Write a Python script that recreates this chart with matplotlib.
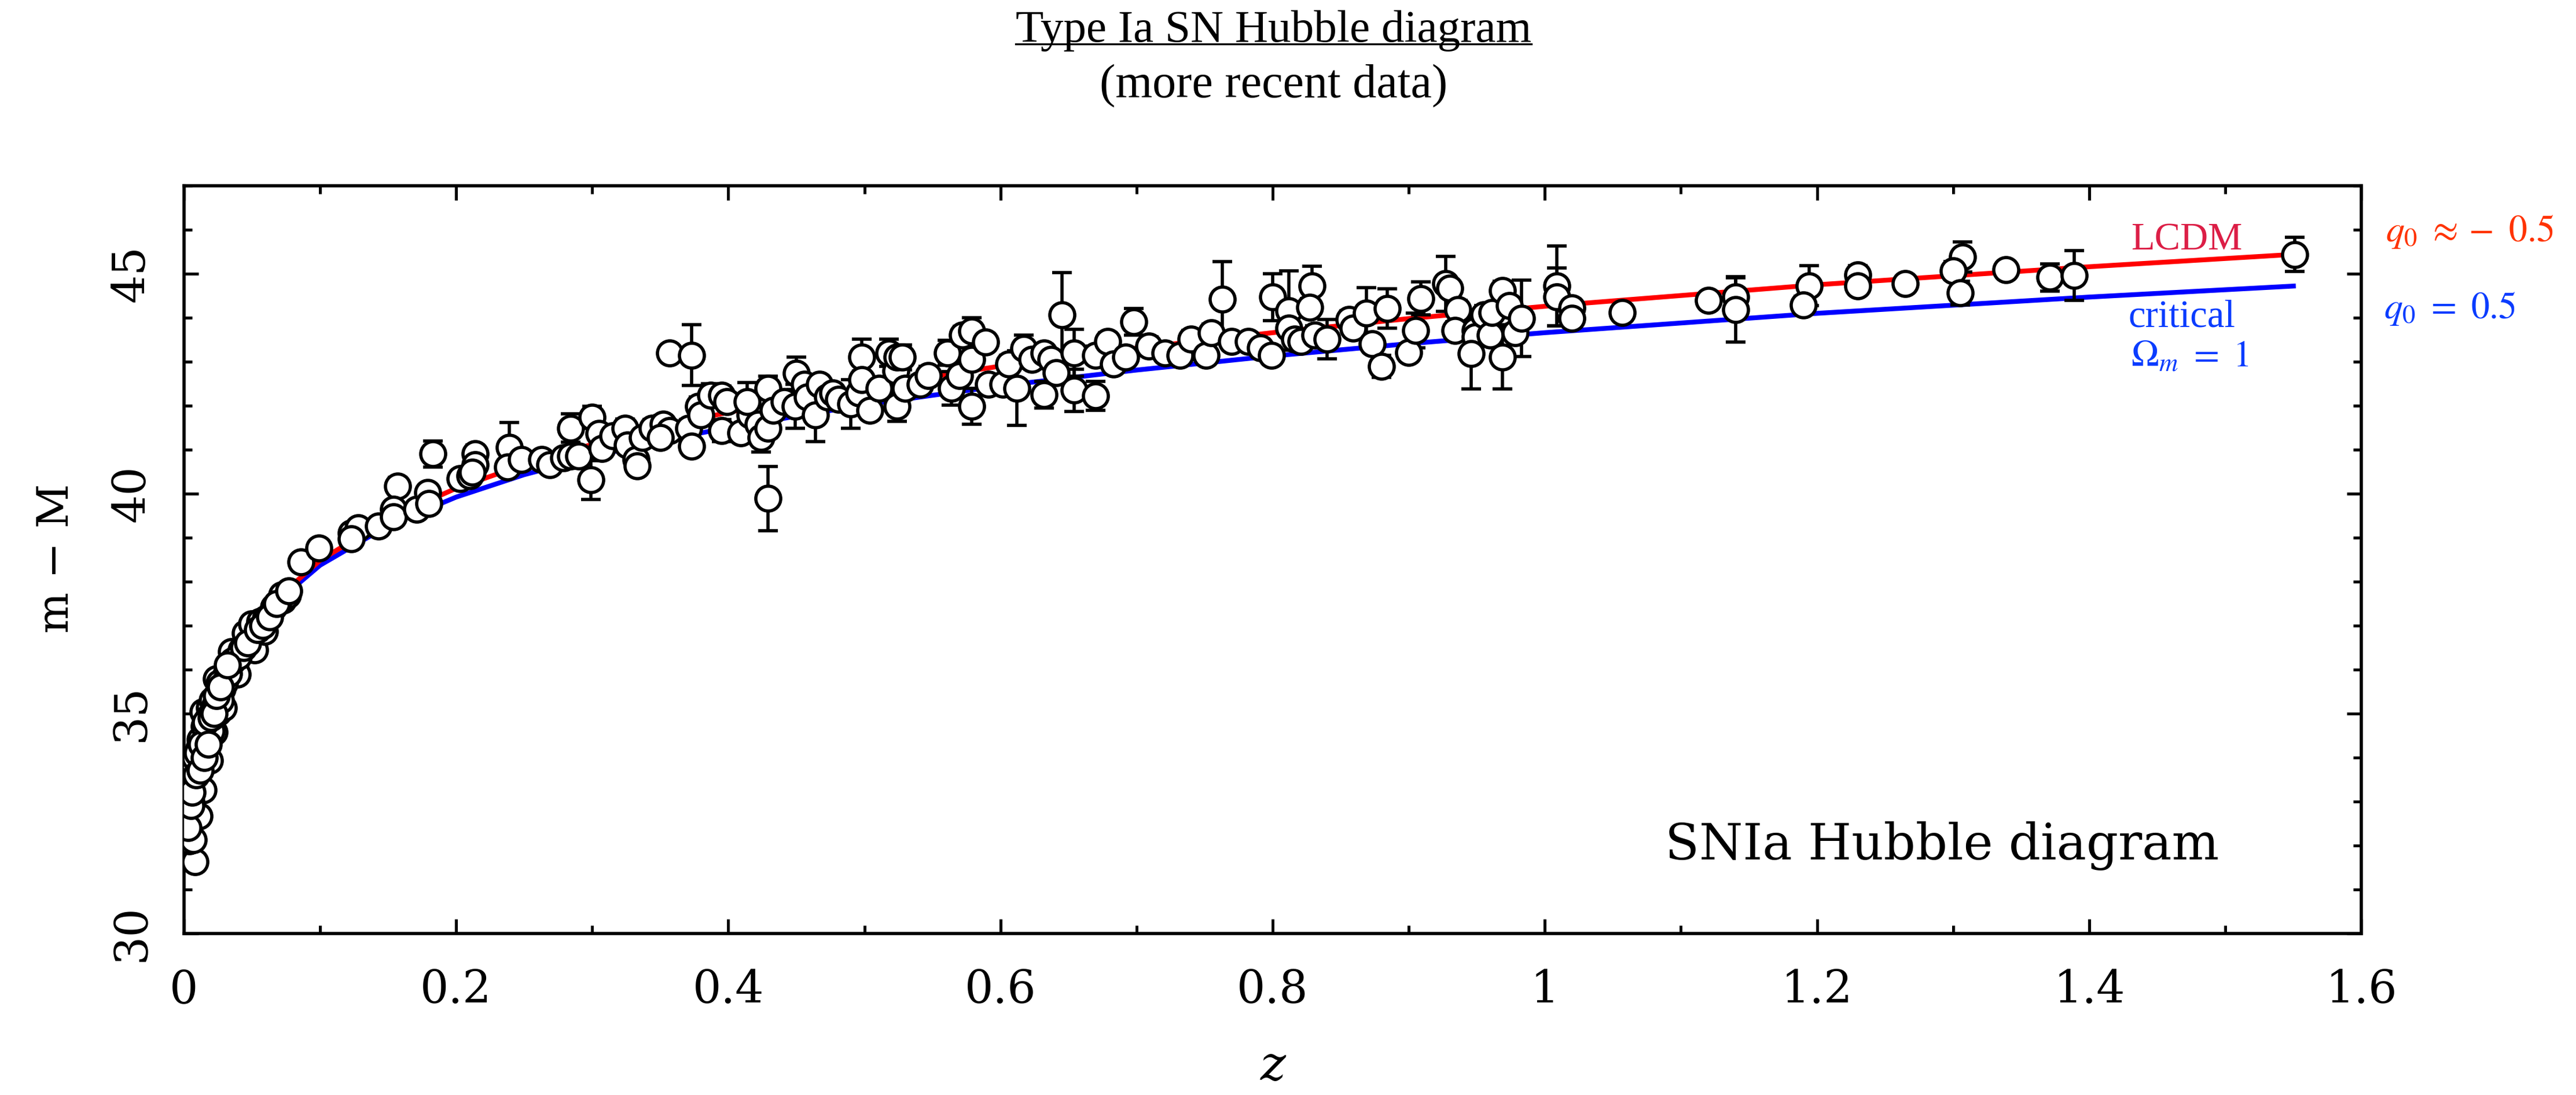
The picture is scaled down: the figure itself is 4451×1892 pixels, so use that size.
# Type Ia SN Hubble diagram (distance modulus vs redshift)

import matplotlib
matplotlib.use("Agg")
import matplotlib.pyplot as plt
from matplotlib.lines import Line2D
from matplotlib.ticker import MultipleLocator

# supernovae: redshift z, distance modulus mu, error
z_near = [0.008, 0.004, 0.007, 0.003, 0.007, 0.011, 0.004, 0.009, 0.014, 0.013,
          0.016, 0.011, 0.019, 0.017, 0.022, 0.014, 0.019, 0.025, 0.029, 0.025,
          0.028, 0.024, 0.031, 0.035, 0.038, 0.039, 0.035, 0.042, 0.048, 0.052,
          0.045, 0.050, 0.056, 0.059, 0.060, 0.066, 0.073, 0.076, 0.072,
          0.005, 0.006, 0.010, 0.012, 0.008, 0.015, 0.018, 0.020, 0.021, 0.023,
          0.026, 0.027, 0.030, 0.033, 0.036, 0.040, 0.044, 0.047, 0.054, 0.058,
          0.063, 0.068,
          0.003, 0.005, 0.006, 0.009, 0.010, 0.012, 0.013, 0.015, 0.016, 0.018,
          0.020, 0.022, 0.024, 0.027, 0.032]
mu_near = [31.63, 32.10, 32.12, 32.70, 32.70, 32.66, 33.38, 33.43, 33.26, 33.81,
           34.14, 34.20, 33.93, 34.47, 34.58, 35.03, 35.13, 35.02, 35.13, 35.45,
           35.56, 35.78, 35.89, 36.00, 36.17, 35.89, 36.41, 36.44, 36.55, 36.44,
           36.82, 37.04, 37.09, 36.87, 37.15, 37.42, 37.58, 37.70, 37.70,
           33.0, 33.7, 33.9, 34.4, 34.0, 34.7, 34.9, 34.6, 35.3, 35.2,
           35.7, 35.3, 35.7, 35.9, 36.2, 36.3, 36.5, 36.6, 36.9, 37.0,
           37.2, 37.5,
           32.4, 32.9, 33.2, 33.6, 34.1, 33.7, 34.3, 34.0, 34.8, 34.3,
           34.9, 35.0, 35.4, 35.6, 36.1]
dmu_near = 0.15

z_low = [0.077, 0.086, 0.099, 0.123, 0.128, 0.123, 0.143, 0.157, 0.154, 0.154,
         0.171, 0.179, 0.180, 0.183, 0.203, 0.210, 0.214, 0.214, 0.212, 0.239,
         0.238, 0.248, 0.263, 0.269, 0.279, 0.284, 0.284, 0.290, 0.299, 0.300,
         0.305, 0.307, 0.315, 0.324, 0.326, 0.332]
mu_low = [37.79, 38.45, 38.76, 39.10, 39.22, 38.97, 39.26, 40.17, 39.64, 39.47,
          39.64, 40.02, 39.77, 40.90, 40.34, 40.40, 40.90, 40.65, 40.48, 41.05,
          40.61, 40.78, 40.78, 40.65, 40.82, 41.49, 40.86, 40.86, 40.31, 41.74,
          41.37, 41.03, 41.32, 41.49, 41.11, 40.78]
dmu_low = [0.15, 0.15, 0.15, 0.15, 0.15, 0.15, 0.15, 0.20, 0.15, 0.15,
           0.15, 0.15, 0.15, 0.30, 0.15, 0.15, 0.20, 0.15, 0.15, 0.57,
           0.15, 0.15, 0.15, 0.15, 0.15, 0.32, 0.15, 0.15, 0.44, 0.25,
           0.20, 0.20, 0.20, 0.20, 0.20, 0.20]

z_mid = [0.333, 0.337, 0.344, 0.352, 0.357, 0.350, 0.371, 0.373, 0.357, 0.373,
         0.378, 0.380, 0.387, 0.395, 0.399, 0.395, 0.409, 0.416, 0.424, 0.414,
         0.429, 0.422, 0.424, 0.429, 0.429, 0.433, 0.441, 0.449, 0.450, 0.456,
         0.458, 0.464, 0.467, 0.473, 0.477, 0.481, 0.490, 0.496, 0.498, 0.498,
         0.504, 0.511, 0.518, 0.523, 0.524, 0.528, 0.524, 0.530, 0.541, 0.547,
         0.561, 0.564, 0.570, 0.572, 0.579, 0.579, 0.579, 0.589, 0.591, 0.602,
         0.606, 0.612, 0.617, 0.623]
mu_mid = [40.63, 41.28, 41.48, 41.58, 41.43, 41.28, 41.48, 41.08, 43.20, 43.15,
          41.99, 41.79, 42.24, 42.24, 42.09, 41.43, 41.38, 41.79, 42.04, 42.09,
          42.39, 41.58, 41.28, 41.48, 39.89, 41.89, 42.09, 41.99, 42.74, 42.49,
          42.19, 41.79, 42.49, 42.19, 42.29, 42.14, 42.04, 42.29, 43.10, 42.59,
          41.89, 42.39, 43.20, 42.79, 43.10, 43.10, 41.99, 42.39, 42.49, 42.69,
          43.20, 42.39, 42.69, 43.60, 43.70, 43.05, 41.99, 43.45, 42.49, 42.49,
          42.95, 42.40, 43.30, 43.05]
dmu_mid = [0.20, 0.20, 0.20, 0.20, 0.20, 0.20, 0.20, 0.20, 0.15, 0.69,
           0.20, 0.20, 0.26, 0.20, 0.20, 0.25, 0.20, 0.20, 0.20, 0.43,
           0.28, 0.20, 0.33, 0.20, 0.73, 0.20, 0.20, 0.50, 0.37, 0.20,
           0.20, 0.61, 0.20, 0.20, 0.20, 0.20, 0.55, 0.20, 0.41, 0.20,
           0.20, 0.20, 0.31, 0.20, 0.20, 0.28, 0.35, 0.20, 0.20, 0.20,
           0.28, 0.38, 0.20, 0.20, 0.30, 0.20, 0.41, 0.20, 0.20, 0.20,
           0.20, 0.85, 0.30, 0.20]

z_high = [0.632, 0.632, 0.637, 0.645, 0.641, 0.654, 0.654, 0.670, 0.670, 0.679,
          0.683, 0.692, 0.698, 0.709, 0.721, 0.732, 0.740, 0.751, 0.755, 0.763,
          0.770, 0.782, 0.791, 0.799, 0.800, 0.812, 0.829, 0.827, 0.812, 0.816,
          0.821, 0.831, 0.840, 0.856, 0.859, 0.869, 0.873, 0.880, 0.884]
mu_high = [43.20, 42.25, 43.05, 44.06, 42.75, 43.20, 42.35, 43.15, 42.22, 43.46,
           42.95, 43.10, 43.91, 43.36, 43.20, 43.15, 43.51, 43.15, 43.66, 44.42,
           43.46, 43.46, 43.31, 43.15, 44.47, 44.16, 44.72, 44.24, 43.76, 43.51,
           43.46, 43.61, 43.51, 43.96, 43.76, 44.11, 43.41, 42.90, 44.21]
dmu_high = [0.20, 0.30, 0.20, 0.97, 0.20, 0.53, 0.48, 0.20, 0.33, 0.20,
            0.20, 0.20, 0.30, 0.20, 0.20, 0.20, 0.20, 0.20, 0.20, 0.86,
            0.20, 0.20, 0.20, 0.20, 0.53, 0.90, 0.45, 0.20, 0.20, 0.20,
            0.20, 0.20, 0.45, 0.20, 0.20, 0.57, 0.20, 0.25, 0.45]

z_far = [0.900, 0.905, 0.909, 0.927, 0.930, 0.936, 0.934, 0.949, 0.949, 0.946,
         0.955, 0.960, 0.961, 0.969, 0.969, 0.974, 0.978, 0.983, 1.009, 1.009,
         1.020, 1.020, 1.057, 1.120, 1.140, 1.140, 1.194, 1.190, 1.230, 1.230,
         1.265, 1.307, 1.300, 1.305, 1.339, 1.371, 1.389, 1.551]
mu_far = [43.21, 43.71, 44.44, 44.77, 44.67, 44.19, 43.71, 43.71, 43.56, 43.18,
          44.07, 43.61, 44.12, 43.11, 44.62, 44.27, 43.66, 43.99, 44.72, 44.47,
          44.22, 43.99, 44.12, 44.39, 44.48, 44.18, 44.73, 44.29, 44.98, 44.73,
          44.77, 45.38, 45.07, 44.56, 45.09, 44.92, 44.96, 45.44]
dmu_far = [0.20, 0.40, 0.38, 0.62, 0.20, 0.20, 0.20, 0.20, 0.20, 0.80,
           0.20, 0.20, 0.20, 0.73, 0.21, 0.20, 0.20, 0.87, 0.91, 0.66,
           0.20, 0.20, 0.15, 0.15, 0.46, 0.73, 0.46, 0.20, 0.20, 0.20,
           0.15, 0.34, 0.20, 0.27, 0.15, 0.31, 0.57, 0.39]

# model curves (LCDM and critical Omega_m = 1)
z_model = [0.005, 0.01, 0.015, 0.02, 0.03, 0.05, 0.07, 0.1, 0.15, 0.2, 0.25,
           0.3, 0.35, 0.4, 0.5, 0.6, 0.7, 0.8, 0.9, 1.0, 1.2, 1.4, 1.55]
mu_lcdm = [31.82, 33.34, 34.23, 34.86, 35.75, 36.90, 37.66, 38.48, 39.43, 40.12, 40.66,
           41.12, 41.50, 41.85, 42.42, 42.90, 43.31, 43.66, 43.98, 44.26, 44.75, 45.16, 45.44]
mu_crit = [31.82, 33.32, 34.21, 34.84, 35.72, 36.84, 37.58, 38.37, 39.27, 39.92, 40.43,
           40.84, 41.20, 41.50, 42.02, 42.45, 42.81, 43.13, 43.41, 43.66, 44.10, 44.47, 44.72]

x_ticks = [0, 0.2, 0.4, 0.6, 0.8, 1.0, 1.2, 1.4, 1.6]
x_labels = ['0', '0.2', '0.4', '0.6', '0.8', '1', '1.2', '1.4', '1.6']
y_ticks = [30, 35, 40, 45]
y_labels = ['30', '35', '40', '45']

plt.rcParams['font.family'] = 'DejaVu Serif'
plt.rcParams['mathtext.fontset'] = 'stix'

fig = plt.figure(figsize=(22.255, 9.46), dpi=200)
ax = fig.add_axes([0.0714, 0.1477, 0.8453, 0.6826])

ax.plot(z_model, mu_crit, color='#0000ff', lw=3.0, zorder=2)
ax.plot(z_model, mu_lcdm, color='#ff0000', lw=3.0, zorder=2)

z_all = z_near + z_low + z_mid + z_high + z_far
mu_all = mu_near + mu_low + mu_mid + mu_high + mu_far
err_all = [dmu_near] * len(z_near) + dmu_low + dmu_mid + dmu_high + dmu_far
ax.errorbar(z_all, mu_all, yerr=err_all, fmt='o', ms=15.5, mfc='white',
            mec='black', mew=2.0, ecolor='black', elinewidth=2.0,
            capsize=6, capthick=2.2, zorder=3)

ax.set_xlim(0, 1.6)
ax.set_ylim(30, 47)
ax.set_xticks(x_ticks)
ax.set_xticklabels(x_labels)
ax.xaxis.set_minor_locator(MultipleLocator(0.1))
ax.set_yticks(y_ticks)
ax.set_yticklabels(y_labels, rotation=90, va='center')
ax.yaxis.set_minor_locator(MultipleLocator(1))
ax.tick_params(which='both', direction='in', top=True, right=True,
               width=1.8, labelsize=28)
ax.tick_params(which='major', length=9)
ax.tick_params(which='minor', length=5)
ax.tick_params(axis='x', pad=22)
ax.tick_params(axis='y', pad=19)
for s in ax.spines.values():
    s.set_linewidth(2.0)

# axis labels
fig.text(0.022, 0.490, 'm − M', rotation=90, ha='center', va='center', fontsize=27)
fig.text(0.4943, 0.014, 'z', style='italic', ha='center', va='baseline', fontsize=30)

# titles
title = fig.text(0.4943, 0.962, 'Type Ia SN Hubble diagram', ha='center',
                 va='baseline', fontsize=28.5, family='Liberation Serif')
fig.text(0.4943, 0.911, '(more recent data)', ha='center', va='baseline',
         fontsize=29.5, family='Liberation Serif')

# model annotations
fig.text(0.8272, 0.7718, 'LCDM', color='#dc1e46', fontsize=24,
         family='Liberation Serif', va='baseline')
fig.text(0.8263, 0.7019, 'critical', color='#0a3cff', fontsize=24,
         family='Liberation Serif', va='baseline')
fig.text(0.8272, 0.6656, r'$\Omega_m\ =\ 1$', color='#0a3cff', fontsize=23, va='baseline')
fig.text(0.9261, 0.7794, r'$q_0\ \approx -\ 0.5$', color='#ff3300', fontsize=23, va='baseline')
fig.text(0.9254, 0.7095, r'$q_0\ =\ 0.5$', color='#0a3cff', fontsize=23, va='baseline')

fig.text(0.6464, 0.2151, 'SNIa Hubble diagram', fontsize=31, va='baseline')

# underline the title
fig.canvas.draw()
bb = title.get_window_extent().transformed(fig.transFigure.inverted())
fig.add_artist(Line2D([bb.x0, bb.x1], [0.9600, 0.9600], transform=fig.transFigure,
                      color='black', lw=1.2))

fig.savefig('out.png', dpi=200)
